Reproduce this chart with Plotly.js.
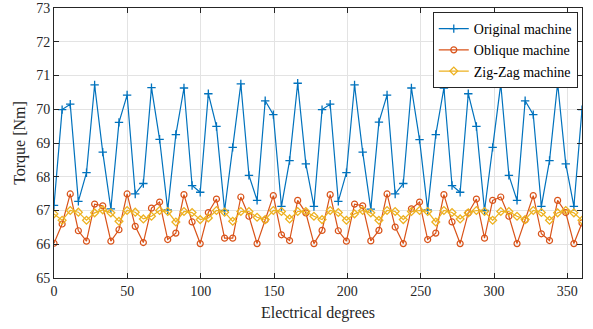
<!DOCTYPE html>
<html>
<head>
<meta charset="utf-8">
<script src="https://cdn.plot.ly/plotly-3.0.1.min.js"></script>
<style>html,body{margin:0;padding:0;background:#fff;}#chart{width:593px;height:329px;}</style>
</head>
<body>
<div id="chart"></div>
<script>
// Sample count and spacing (66 points spanning 0..360 electrical degrees)
const nPoints = 66;
const xStep = 360 / 65;
const electricalDegrees = Array.from({length: nPoints}, (_, i) => i * xStep);

const originalMachine = [
  67.15, 69.99, 70.15, 67.27, 68.12, 70.72, 68.73, 67.05, 69.61, 70.42, 67.49, 67.80, 70.64, 69.11, 67.02, 69.25,
  70.63, 67.74, 67.54, 70.46, 69.49, 67.00, 68.87, 70.75, 68.04, 67.30, 70.25, 69.84, 67.12, 68.48, 70.77, 68.38,
  67.12, 69.99, 70.15, 67.27, 68.12, 70.72, 68.73, 67.04, 69.62, 70.42, 67.49, 67.80, 70.63, 69.10, 67.02, 69.25,
  70.63, 67.74, 67.54, 70.46, 69.49, 67.00, 68.87, 70.75, 68.04, 67.30, 70.25, 69.84, 67.12, 68.48, 70.77, 68.38,
  67.12, 69.99
];

const obliqueMachine = [
  66.03, 66.60, 67.49, 66.40, 66.09, 67.19, 67.14, 66.09, 66.43, 67.49, 66.53, 66.05, 67.07, 67.25, 66.14, 66.33,
  67.47, 66.66, 66.02, 66.94, 67.34, 66.18, 66.18, 67.40, 66.83, 66.02, 66.72, 67.44, 66.28, 66.11, 67.30, 66.93,
  66.02, 66.41, 67.47, 66.40, 66.09, 67.19, 67.14, 66.10, 66.41, 67.49, 66.51, 66.02, 67.05, 67.25, 66.14, 66.33,
  67.47, 66.66, 66.02, 66.93, 67.34, 66.18, 67.30, 67.40, 66.83, 66.02, 66.72, 67.44, 66.31, 66.11, 67.30, 66.94,
  66.02, 66.63
];

const zigZagMachine = [
  66.90, 66.71, 67.00, 66.95, 66.71, 66.93, 67.02, 66.93, 66.68, 67.00, 66.95, 66.75, 66.83, 67.00, 66.97, 66.66,
  66.97, 66.94, 66.73, 66.78, 67.00, 66.95, 66.68, 66.97, 66.97, 66.80, 66.73, 67.00, 66.97, 66.75, 66.97, 66.97,
  66.83, 66.73, 67.00, 66.94, 66.71, 66.90, 67.00, 66.93, 66.71, 67.00, 66.97, 66.73, 66.97, 67.00, 66.97, 66.66,
  67.00, 66.94, 66.75, 66.93, 67.00, 66.97, 66.71, 66.97, 66.97, 66.83, 66.73, 67.00, 66.94, 66.71, 66.93, 67.00,
  66.93, 66.71
];

const seriesNames = ["Original machine", "Oblique machine", "Zig-Zag machine"];
const xTickVals = [0, 50, 100, 150, 200, 250, 300, 350];
const yTickVals = [65, 66, 67, 68, 69, 70, 71, 72, 73];

const FONT = "Liberation Serif";
const AXC = "#262626";

const traces = [
  {x: electricalDegrees, y: originalMachine, name: seriesNames[0], type: "scatter", mode: "lines+markers",
   line: {color: "#0072BD", width: 1.2},
   marker: {symbol: "cross-thin-open", size: 6, color: "#0072BD", line: {color: "#0072BD", width: 1.3}}},
  {x: electricalDegrees, y: obliqueMachine, name: seriesNames[1], type: "scatter", mode: "lines+markers",
   line: {color: "#D95319", width: 1.2},
   marker: {symbol: "circle-open", size: 6, color: "#D95319", line: {color: "#D95319", width: 1.2}}},
  {x: electricalDegrees, y: zigZagMachine, name: seriesNames[2], type: "scatter", mode: "lines+markers",
   line: {color: "#EDB120", width: 1.2},
   marker: {symbol: "diamond-open", size: 6, color: "#EDB120", line: {color: "#EDB120", width: 1.3}}}
];

const layout = {
  width: 593, height: 329,
  margin: {l: 54, r: 11, t: 8, b: 51},
  paper_bgcolor: "#fff", plot_bgcolor: "#fff",
  font: {family: FONT, size: 14, color: AXC},
  showlegend: true,
  legend: {x: 0.992, y: 0.985, xanchor: "right", yanchor: "top",
    bgcolor: "#fff", bordercolor: AXC, borderwidth: 1,
    font: {family: FONT, size: 14, color: "#000"},
    tracegroupgap: 0, itemwidth: 30},
  xaxis: {range: [0, 360], tickvals: xTickVals, ticktext: xTickVals.map(String),
    showgrid: true, gridcolor: "#e3e3e3", gridwidth: 1, zeroline: false,
    showline: true, linecolor: AXC, linewidth: 1, mirror: "ticks",
    ticks: "inside", ticklen: 5, tickcolor: AXC,
    tickfont: {family: FONT, size: 14, color: AXC},
    title: {text: "Electrical degrees", font: {family: FONT, size: 16, color: AXC}, standoff: 9}},
  yaxis: {range: [65, 73], tickvals: yTickVals, ticktext: yTickVals.map(String),
    showgrid: true, gridcolor: "#e3e3e3", gridwidth: 1, zeroline: false,
    showline: true, linecolor: AXC, linewidth: 1, mirror: "ticks",
    ticks: "inside", ticklen: 5, tickcolor: AXC,
    tickfont: {family: FONT, size: 14, color: AXC},
    title: {text: "Torque [Nm]", font: {family: FONT, size: 16, color: AXC}, standoff: 6}}
};

Plotly.newPlot("chart", traces, layout, {displayModeBar: false, staticPlot: true});
</script>
</body>
</html>
